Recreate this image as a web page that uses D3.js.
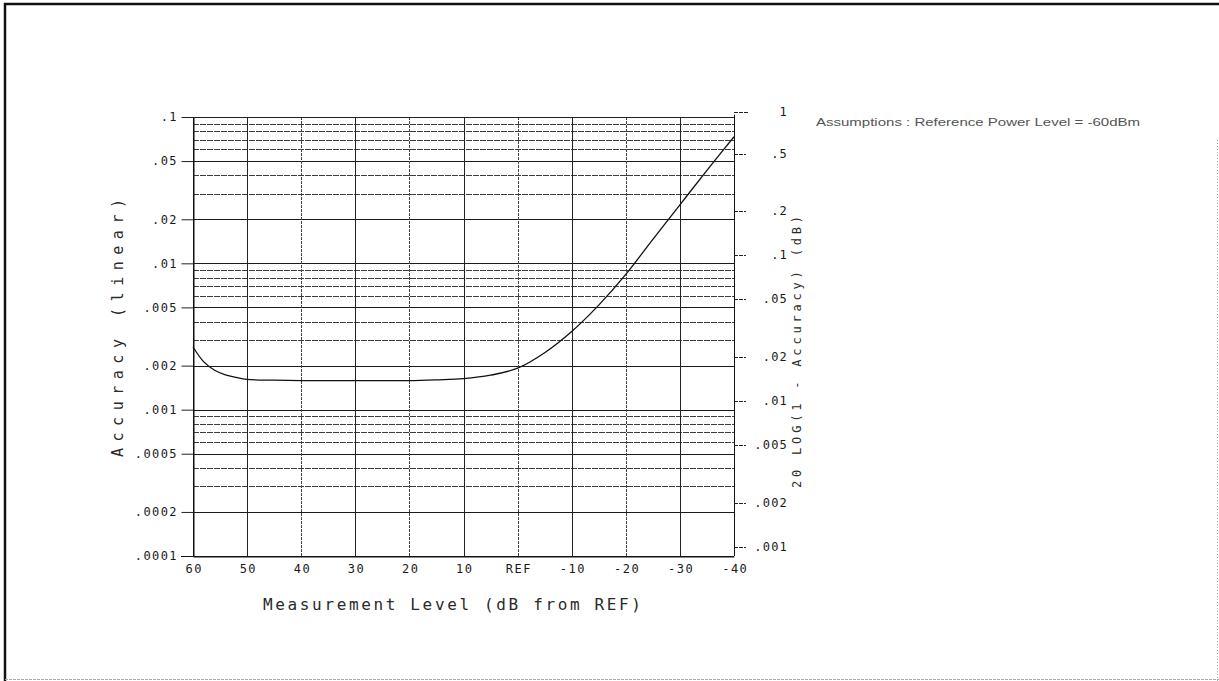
<!DOCTYPE html>
<html><head><meta charset="utf-8">
<script src="https://cdn.jsdelivr.net/npm/d3@7"></script>
<style>body{margin:0;background:#fff}svg{display:block}</style>
</head><body><svg id="c" width="1219" height="681"></svg>
<script>
// ---- data ----
const levels   = [60, 58, 56, 54, 52, 50, 45, 40, 35, 30, 25, 20, 15, 10, 5, 0, -5, -10, -15, -20, -25, -30, -35, -40];
const accuracy = [0.00268, 0.00212, 0.00186, 0.00173, 0.00166, 0.00161, 0.00159, 0.00158, 0.00158, 0.00158, 0.00158, 0.00158,
                  0.00160, 0.00163, 0.00172, 0.00192, 0.00245, 0.00342, 0.00518, 0.00840, 0.0146, 0.0251, 0.0432, 0.0733];
const xTickValues = [60, 50, 40, 30, 20, 10, 0, -10, -20, -30, -40];
const xTickLabels = ["60", "50", "40", "30", "20", "10", "REF", "-10", "-20", "-30", "-40"];
const leftTickValues = [0.1, 0.05, 0.02, 0.01, 0.005, 0.002, 0.001, 0.0005, 0.0002, 0.0001];
const leftTickLabels = [".1", ".05", ".02", ".01", ".005", ".002", ".001", ".0005", ".0002", ".0001"];
const rightTickValues = [1, 0.5, 0.2, 0.1, 0.05, 0.02, 0.01, 0.005, 0.002, 0.001];
const rightTickLabels = ["1", ".5", ".2", ".1", ".05", ".02", ".01", ".005", ".002", ".001"];
const gridDecades = [0.0001, 0.001, 0.01];
const gridMantissas = [1, 2, 3, 4, 5, 6, 7, 8, 9];
const xTitle = "Measurement Level (dB from REF)";
const yTitle = "Accuracy (linear)";
const y2Title = "20 LOG(1 - Accuracy) (dB)";
const note = "Assumptions : Reference Power Level = -60dBm";

// ---- layout ----
const L = 193, R = 734, T = 117, B = 556;
const svg = d3.select("#c");
const mono = "'DejaVu Sans Mono', 'Liberation Mono', monospace";

const x = d3.scaleLinear().domain([60, -40]).range([L, R]);
const y = d3.scaleLog().domain([0.0001, 0.1]).range([B, T]);
const yRight = dB => y(1 - Math.pow(10, -dB / 20));

// page frame
svg.append("line").attr("x1", 4).attr("x2", 1219).attr("y1", 4).attr("y2", 4).attr("stroke", "#111").attr("stroke-width", 2.5);
svg.append("line").attr("x1", 5).attr("x2", 5).attr("y1", 3).attr("y2", 681).attr("stroke", "#111").attr("stroke-width", 2.5);
svg.append("line").attr("x1", 5).attr("x2", 1219).attr("y1", 679.5).attr("y2", 679.5).attr("stroke", "#aaa").attr("stroke-width", 1).attr("stroke-dasharray", "3,1");
svg.append("line").attr("x1", 1217.5).attr("x2", 1217.5).attr("y1", 140).attr("y2", 681).attr("stroke", "#aaa").attr("stroke-width", 1).attr("stroke-dasharray", "1,2");

// horizontal grid
const gridVals = [];
gridDecades.forEach(d => gridMantissas.forEach(m => gridVals.push(m * d)));
gridVals.push(0.1);
const major = new Set(leftTickValues.map(v => +v.toPrecision(3)));
svg.append("g").selectAll("line").data(gridVals).join("line")
  .attr("x1", L).attr("x2", R)
  .attr("y1", d => Math.round(y(d)) + 0.5).attr("y2", d => Math.round(y(d)) + 0.5)
  .attr("stroke", d => major.has(+d.toPrecision(3)) ? "#1a1a1a" : "#3c3c3c")
  .attr("stroke-width", 1)
  .attr("stroke-dasharray", d => major.has(+d.toPrecision(3)) ? null : "6,1");

// vertical grid
svg.append("g").selectAll("line").data(xTickValues).join("line")
  .attr("x1", d => Math.round(x(d)) + 0.5).attr("x2", d => Math.round(x(d)) + 0.5)
  .attr("y1", T).attr("y2", B)
  .attr("stroke", (d, i) => (i === 0 || i === xTickValues.length - 1) ? "#111" : (i % 2 ? "#222" : "#444"))
  .attr("stroke-width", 1)
  .attr("stroke-dasharray", (d, i) => (i === 0 || i === xTickValues.length - 1 || i % 2) ? null : "3,1");

// left axis
const la = svg.append("g").attr("transform", `translate(${L + 0.5},0)`)
  .call(d3.axisLeft(y).tickValues(leftTickValues).tickFormat((d, i) => leftTickLabels[i]).tickSize(12).tickPadding(5).tickSizeOuter(0));
la.select(".domain").attr("stroke", "#111");
la.selectAll(".tick line").attr("stroke", "#222");
la.selectAll(".tick text").attr("font-family", mono).attr("font-size", 12).attr("fill", "#1a1a1a").attr("letter-spacing", 1.4).attr("dx", 1.4);

// bottom axis
const ba = svg.append("g").attr("transform", `translate(0,${B + 0.5})`)
  .call(d3.axisBottom(x).tickValues(xTickValues).tickFormat((d, i) => xTickLabels[i]).tickSize(0).tickPadding(8).tickSizeOuter(0));
ba.select(".domain").attr("stroke", "#111");
ba.selectAll(".tick text").attr("font-family", mono).attr("font-size", 12).attr("fill", "#1a1a1a").attr("letter-spacing", 1.5).attr("dx", 0.75);
// bottom edge extends to the left tick
svg.append("line").attr("x1", L - 12).attr("x2", L).attr("y1", B + 0.5).attr("y2", B + 0.5).attr("stroke", "#111");

// top edge
svg.append("line").attr("x1", L).attr("x2", R).attr("y1", T + 0.5).attr("y2", T + 0.5).attr("stroke", "#222");

// right axis (dB)
svg.append("line").attr("x1", R + 0.5).attr("x2", R + 0.5).attr("y1", yRight(1) + 3).attr("y2", B).attr("stroke", "#111");
const ra = svg.append("g");
ra.selectAll("line").data(rightTickValues).join("line")
  .attr("x1", R).attr("x2", (d, i) => R + (i === 0 ? 15 : 12))
  .attr("y1", d => Math.round(yRight(d)) + 0.5).attr("y2", d => Math.round(yRight(d)) + 0.5)
  .attr("stroke", "#222").attr("stroke-dasharray", "4,1");
ra.selectAll("text").data(rightTickValues).join("text")
  .attr("x", 788).attr("y", d => yRight(d)).attr("dy", "0.35em")
  .attr("text-anchor", "end")
  .attr("font-family", mono).attr("font-size", 12).attr("fill", "#1a1a1a").attr("letter-spacing", 1.2)
  .text((d, i) => rightTickLabels[i]);

// curve
const pts = levels.map((l, i) => ({ l, a: accuracy[i] }));
svg.append("path").datum(pts)
  .attr("fill", "none").attr("stroke", "#111").attr("stroke-width", 1.3)
  .attr("d", d3.line().x(d => x(d.l)).y(d => y(d.a)).curve(d3.curveCatmullRom.alpha(0.5)));

// titles
svg.append("text").attr("x", 263).attr("y", 610)
  .attr("font-family", mono).attr("font-size", 16).attr("fill", "#2a2a2a")
  .attr("textLength", 378).attr("lengthAdjust", "spacing")
  .text(xTitle);

svg.append("text").attr("transform", "translate(123,457) rotate(-90)")
  .attr("font-family", mono).attr("font-size", 15).attr("fill", "#2a2a2a")
  .attr("textLength", 258).attr("lengthAdjust", "spacing")
  .text(yTitle);

svg.append("text").attr("transform", "translate(801,488) rotate(-90)")
  .attr("font-family", mono).attr("font-size", 12).attr("fill", "#2a2a2a")
  .attr("textLength", 272).attr("lengthAdjust", "spacing")
  .text(y2Title);

svg.append("text").attr("x", 816).attr("y", 126)
  .attr("font-family", "'Liberation Sans', Arial, sans-serif").attr("font-size", 11.5).attr("fill", "#555")
  .attr("textLength", 324).attr("lengthAdjust", "spacingAndGlyphs")
  .text(note);
</script>
</body></html>
